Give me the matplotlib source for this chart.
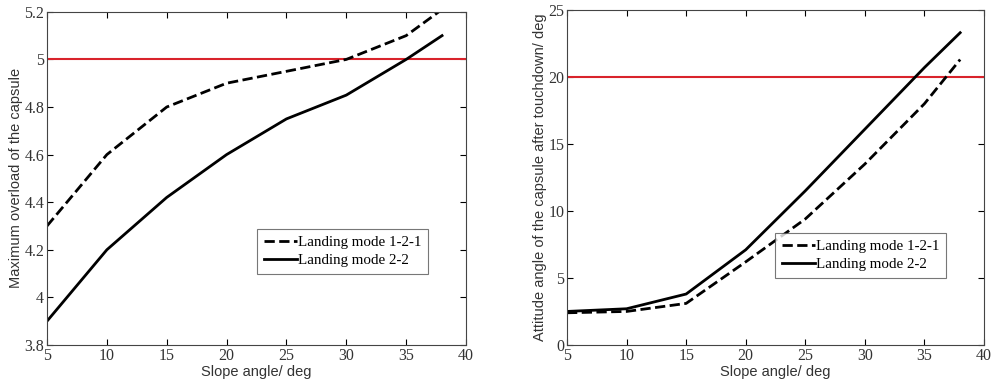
import matplotlib
matplotlib.use("Agg")
import matplotlib.pyplot as plt

# slope angles (deg)
slope = [5, 10, 15, 20, 25, 30, 35, 38]

# maximum overload of the capsule
overload_121 = [4.30, 4.60, 4.80, 4.90, 4.95, 5.00, 5.10, 5.21]
overload_22 = [3.90, 4.20, 4.42, 4.60, 4.75, 4.85, 5.00, 5.10]

# attitude angle after touchdown (deg)
attitude_121 = [2.4, 2.5, 3.1, 6.2, 9.4, 13.5, 18.0, 21.3]
attitude_22 = [2.5, 2.7, 3.8, 7.1, 11.5, 16.1, 20.7, 23.3]

overload_limit = 5.0
attitude_limit = 20.0

serif = 'Liberation Serif'
sans = 'Liberation Sans'

fig = plt.figure(figsize=(10, 3.82), dpi=100)
ax1 = fig.add_axes([0.047, 0.097, 0.419, 0.872])
ax2 = fig.add_axes([0.567, 0.097, 0.417, 0.877])


def style_axes(ax, xlabel, ylabel, ylim, yticks):
    ax.set_xlim(5, 40)
    ax.set_ylim(*ylim)
    ax.set_xticks([5, 10, 15, 20, 25, 30, 35, 40])
    ax.set_yticks(yticks)
    ax.tick_params(direction='in', top=True, right=True, length=4, width=0.8,
                   labelsize=11.5, pad=2)
    for lab in ax.get_xticklabels() + ax.get_yticklabels():
        lab.set_fontfamily(serif)
        lab.set_color('#333333')
    ax.set_xlabel(xlabel, fontsize=10.5, family=sans, labelpad=1, color='#333333')
    ax.set_ylabel(ylabel, fontsize=10.5, family=sans, labelpad=1, color='#333333')
    for sp in ax.spines.values():
        sp.set_linewidth(0.8)
        sp.set_color('#444444')


def add_legend(ax, anchor):
    leg = ax.legend(loc='lower right', bbox_to_anchor=anchor,
                    prop={'family': serif, 'size': 10.8}, fancybox=False,
                    handlelength=2.2, handletextpad=0.05, borderpad=0.45,
                    labelspacing=0.3, borderaxespad=0)
    leg.get_frame().set_edgecolor('#555555')
    leg.get_frame().set_linewidth(0.8)
    return leg


# left: overload
ax1.axhline(overload_limit, color='#d9232b', linewidth=1.5)
ax1.plot(slope, overload_121, 'k--', linewidth=2, label='Landing mode 1-2-1')
ax1.plot(slope, overload_22, 'k-', linewidth=2, label='Landing mode 2-2')
style_axes(ax1, 'Slope angle/ deg', 'Maximum overload of the capsule',
           (3.8, 5.2), [3.8, 4, 4.2, 4.4, 4.6, 4.8, 5, 5.2])
ax1.set_yticklabels(['3.8', '4', '4.2', '4.4', '4.6', '4.8', '5', '5.2'],
                    family=serif, color='#333333')
add_legend(ax1, (0.909, 0.213))

# right: attitude angle
ax2.axhline(attitude_limit, color='#d9232b', linewidth=1.5)
ax2.plot(slope, attitude_121, 'k--', linewidth=2, label='Landing mode 1-2-1')
ax2.plot(slope, attitude_22, 'k-', linewidth=2, label='Landing mode 2-2')
style_axes(ax2, 'Slope angle/ deg', 'Attitude angle of the capsule after touchdown/ deg',
           (0, 25), [0, 5, 10, 15, 20, 25])
add_legend(ax2, (0.909, 0.2))

fig.savefig('out.png', dpi=100)
